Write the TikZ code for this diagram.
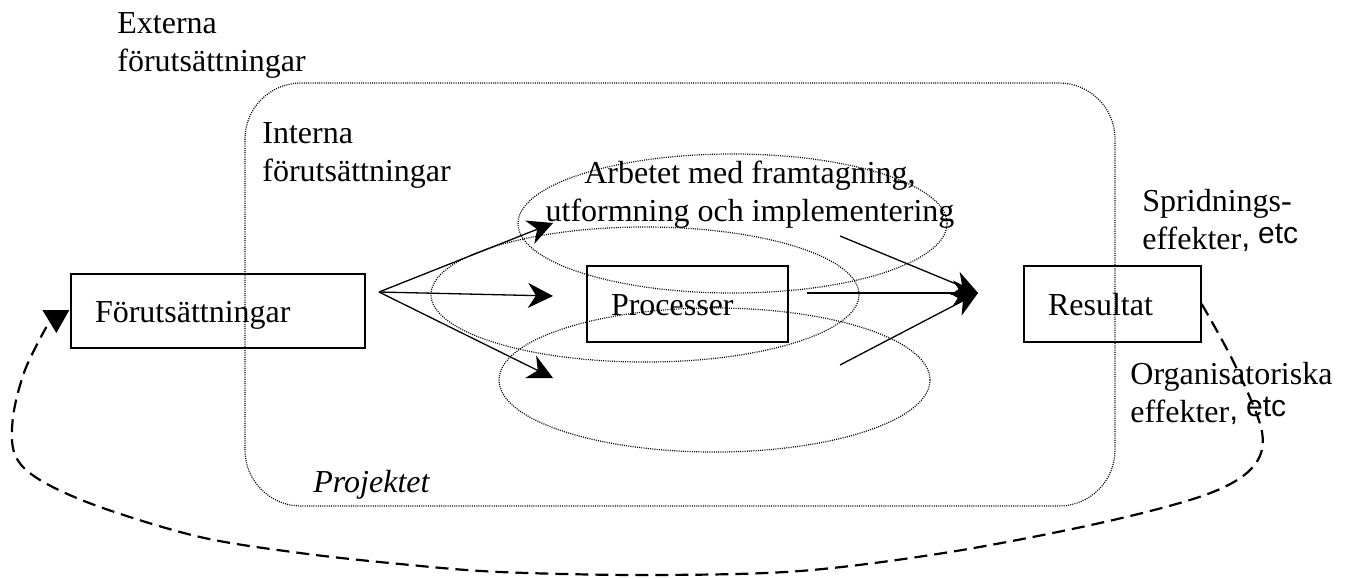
\documentclass[tikz,border=0pt]{standalone}
\usepackage{fontspec}
\setmainfont{Liberation Serif}
\setsansfont{Liberation Sans}
\usetikzlibrary{arrows.meta}
\begin{document}
\begin{tikzpicture}[x=0.5pt,y=-0.5pt,
  every node/.style={inner sep=0pt, font=\fontsize{16}{19}\selectfont},
  lbl/.style={anchor=base west, align=left},
  box/.style={draw, line width=0.65pt, rectangle, align=left, inner xsep=12pt, inner ysep=0pt,
    text height=14.5pt, text depth=3pt, minimum height=38pt},
  dotline/.style={line width=0.6pt, dash pattern=on 0.5pt off 0.6pt},
  arr/.style={line width=0.65pt, -{Stealth[length=12.5pt,width=12.5pt,inset=4pt]}},
  fb/.style={line width=1.1pt, dash pattern=on 6.5pt off 3.5pt}]
\useasboundingbox (0,0) rectangle (1358,578);

% labels (base anchor = baseline of the last line)
\node[lbl] (ext) at (117,71) {Externa\\förutsättningar};
\node[lbl] (int) at (262,181) {Interna\\förutsättningar};
\node[anchor=base, align=center] (arb) at (750,221) {Arbetet med framtagning,\\utformning och implementering};
\node[lbl] (spr) at (1142,249) {Spridnings-\\effekter\raisebox{1pt}{\sffamily,}\hspace{4pt}\raisebox{3pt}{\sffamily\fontsize{15}{15}\selectfont etc}};
\node[lbl] (org) at (1130,422) {Organisatoriska\\effekter\raisebox{1pt}{\sffamily,}\hspace{4pt}\raisebox{3pt}{\sffamily\fontsize{15}{15}\selectfont etc}};
\node[lbl] (proj) at (313,492) {\itshape Projektet};

% project frame
\draw[dotline, rounded corners=28pt] (245,83) rectangle (1115,506);

% boxes
\node[box, text width=123pt, minimum height=37pt] (fore) at (218,311) {Förutsättningar};
\node[box, text width=76.5pt] (proc) at (687.5,304) {Processer};
\node[box, text width=64.5pt] (res) at (1112.5,304) {Resultat};

% ellipses
\draw[dotline] (732.5,223.5) ellipse [x radius=214.5, y radius=69.5];
\draw[dotline] (645,294.5) ellipse [x radius=214, y radius=67.5];
\draw[dotline] (714.5,380) ellipse [x radius=215.5, y radius=72];

% fan arrows
\coordinate (fan) at (379,292);
\coordinate (t1) at (553,223);
\coordinate (t2) at (553,296);
\coordinate (t3) at (553,378);
\draw[arr] (fan) -- (t1);
\draw[arr] (fan) -- (t2);
\draw[arr] (fan) -- (t3);

% converging arrows
\coordinate (s1) at (840,236);
\coordinate (s2) at (807,293);
\coordinate (s3) at (840,365);
\coordinate (tip) at (978,293);
\draw[arr] (s1) -- (tip);
\draw[arr] (s2) -- (tip);
\draw[arr] (s3) -- (tip);

% feedback loop
\coordinate (fbend) at ([shift={(-24,16)}]fore.west);
\draw[fb] plot[smooth, tension=0.55] coordinates {(res.east) (1235,365) (1262,432) (1252,468) (1205,495) (1100,523) (950,552) (800,571) (650,575) (500,572) (400,564) (300,553) (200,537) (100,507) (40,480) (15,455) (13,417) (25,370) (fbend)};
\fill ([shift={(-28,-1)}]fore.west) -- ++(27,0) -- ++(-13,23) -- cycle;
\end{tikzpicture}
\end{document}
